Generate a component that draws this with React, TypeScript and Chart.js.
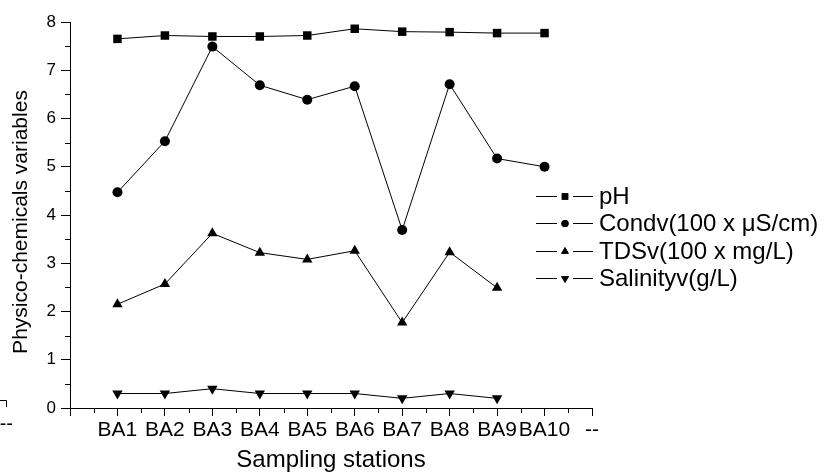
import React, { useEffect, useRef } from 'react';
import { Chart, registerables } from 'chart.js';
import { drawPoint } from 'chart.js/helpers';

Chart.register(...registerables);

// ---- Data ----
const stations = ['BA1', 'BA2', 'BA3', 'BA4', 'BA5', 'BA6', 'BA7', 'BA8', 'BA9', 'BA10'];
const endTickLabel = '--';
const pH = [7.65, 7.72, 7.7, 7.7, 7.72, 7.86, 7.8, 7.79, 7.77, 7.77];
const cond = [4.47, 5.53, 7.49, 6.69, 6.39, 6.67, 3.69, 6.71, 5.17, 5.0];
const tds = [2.15, 2.57, 3.62, 3.22, 3.08, 3.26, 1.77, 3.23, 2.49];
const salinity = [0.3, 0.3, 0.4, 0.3, 0.3, 0.3, 0.2, 0.3, 0.2];
const seriesNames = ['pH', 'Condv(100 x \u03bcS/cm)', 'TDSv(100 x mg/L)', 'Salinityv(g/L)'];
const pointStyles = ['rect', 'circle', 'triangle', 'triangle'];
const pointRotations = [0, 0, 0, 180];
const xTitle = 'Sampling stations';
const yTitle = 'Physico-chemicals variables';

const FONT = "'Liberation Sans', Arial, sans-serif";

const toXY = (arr: number[]) => arr.map((v, i) => ({ x: i + 1, y: v }));

const decorPlugin = {
  id: 'decor',
  afterDraw(chart: any) {
    const ctx = chart.ctx;
    const xs = chart.scales.x;
    const ys = chart.scales.y;
    const area = chart.chartArea;
    ctx.save();
    ctx.strokeStyle = '#000';
    ctx.lineWidth = 1;
    // minor ticks
    ctx.beginPath();
    for (let v = 0.5; v < 11; v += 1) {
      const px = Math.round(xs.getPixelForValue(v)) + 0.5;
      ctx.moveTo(px, area.bottom);
      ctx.lineTo(px, area.bottom + 5);
    }
    for (let v = 0.5; v < 8; v += 1) {
      const py = Math.round(ys.getPixelForValue(v)) + 0.5;
      ctx.moveTo(area.left, py);
      ctx.lineTo(area.left - 5, py);
    }
    ctx.stroke();

    // y axis title
    ctx.save();
    ctx.translate(21, 222);
    ctx.rotate(-Math.PI / 2);
    ctx.font = `21px ${FONT}`;
    ctx.fillStyle = '#000';
    ctx.textAlign = 'center';
    ctx.textBaseline = 'middle';
    ctx.fillText(yTitle, 0, 0);
    ctx.restore();

    // legend
    const rowY = [196, 223.3, 250.6, 278];
    ctx.font = `24px ${FONT}`;
    ctx.fillStyle = '#000';
    ctx.textBaseline = 'middle';
    ctx.textAlign = 'left';
    seriesNames.forEach((name, i) => {
      const y = Math.round(rowY[i]) + 0.5;
      ctx.beginPath();
      ctx.moveTo(536, y);
      ctx.lineTo(557, y);
      ctx.moveTo(573, y);
      ctx.lineTo(593, y);
      ctx.stroke();
      drawPoint(ctx, {
        pointStyle: pointStyles[i],
        radius: i === 1 ? 3.6 : 4.6,
        rotation: pointRotations[i],
        borderWidth: 0,
      }, 565, y);
      ctx.fill();
      ctx.fillText(name, 599, y + 1);
    });

    // stray mark at bottom-left
    ctx.beginPath();
    ctx.moveTo(0, 400.5);
    ctx.lineTo(6.5, 400.5);
    ctx.lineTo(6.5, 407);
    ctx.stroke();
    ctx.font = `20px ${FONT}`;
    ctx.textAlign = 'right';
    ctx.fillText('--', 13, 424);
    ctx.restore();
  },
};

export default function App() {
  const ref = useRef<HTMLCanvasElement>(null);
  useEffect(() => {
    if (!ref.current) return;
    Chart.defaults.font.family = FONT;
    Chart.defaults.color = '#000';
    const datasets = [pH, cond, tds, salinity].map((arr, i) => ({
      label: seriesNames[i],
      data: toXY(arr),
      borderColor: '#000',
      backgroundColor: '#000',
      borderWidth: 1,
      pointStyle: pointStyles[i],
      rotation: pointRotations[i],
      pointRadius: i === 1 ? 5 : 6,
      pointBorderWidth: 0,
      pointBackgroundColor: '#000',
      tension: 0,
    }));
    const chart = new Chart(ref.current, {
      type: 'line',
      data: { datasets },
      plugins: [decorPlugin],
      options: {
        animation: false,
        responsive: false,
        layout: { padding: { top: 22, right: 243, bottom: 0, left: 0 } },
        plugins: { legend: { display: false }, tooltip: { enabled: false } },
        scales: {
          x: {
            type: 'linear',
            min: 0,
            max: 11,
            afterFit: (s: any) => { s.height = 67; },
            border: { display: true, color: '#000', width: 1 },
            grid: { display: true, drawOnChartArea: false, drawTicks: true, tickLength: 8, color: '#000' },
            ticks: {
              stepSize: 1,
              autoSkip: false,
              maxRotation: 0,
              padding: 2,
              font: { size: 21 },
              callback: (v: any) => {
                const n = Number(v);
                if (n >= 1 && n <= stations.length) return stations[n - 1];
                if (n === 11) return endTickLabel;
                return '';
              },
            },
            title: { display: true, text: xTitle, font: { size: 24 }, padding: { top: 0, bottom: 0 } },
          },
          y: {
            type: 'linear',
            min: 0,
            max: 8,
            afterFit: (s: any) => { s.width = 70; },
            border: { display: true, color: '#000', width: 1 },
            grid: { display: true, drawOnChartArea: false, drawTicks: true, tickLength: 9, color: '#000' },
            ticks: { stepSize: 1, padding: 5, font: { size: 17 } },
            title: { display: false, text: yTitle },
          },
        },
      },
    });
    return () => chart.destroy();
  }, []);
  return (
    <div style={{ position: 'fixed', left: 0, top: 0, width: 835, height: 475, background: '#fff' }}>
      <canvas ref={ref} width={835} height={475} style={{ display: 'block' }} />
    </div>
  );
}
